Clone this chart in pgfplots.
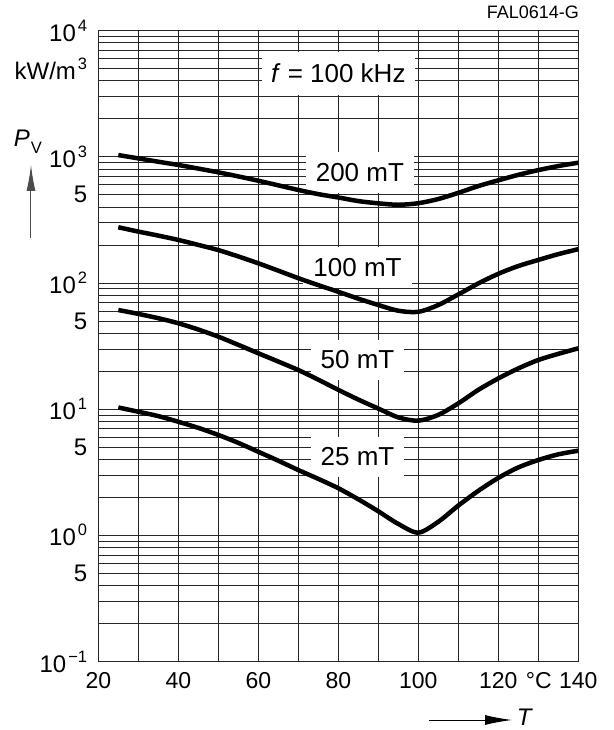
\documentclass[border=0pt]{standalone}
\usepackage{pgfplots}
\pgfplotsset{compat=1.18}
\usepackage{fontspec}
\setmainfont{Liberation Sans}
\usetikzlibrary{arrows.meta}
% superscript as on the data sheet: raised, a bit smaller
\newcommand\sx[1]{\hspace{2pt}\raisebox{10pt}{\fontsize{16.5}{16}\selectfont #1}}
\newcommand\tl{\fontsize{24}{27}\selectfont}
\newcommand\xl{\fontsize{23}{26}\selectfont}
\newcommand\cl{\fontsize{26}{30}\selectfont}
\tikzset{lbl/.style={fill=white, inner xsep=10pt, inner ysep=11pt, font=\cl}}

\begin{document}
\begin{tikzpicture}
\useasboundingbox (-98.3pt,-68.5pt) rectangle (514.7pt,661.5pt);
\begin{axis}[
    at={(0pt,0pt)}, anchor=south west,
    width=480pt, height=631pt, scale only axis,
    ymode=log,
    xmin=20, xmax=140, ymin=0.1, ymax=10000,
    xtick={20,40,...,140},
    minor xtick={30,50,...,130},
    xticklabels={20,40,60,80,100,120,140},
    ytick={0.1,0.5,1,5,10,50,100,500,1000,5000,10000},
    yticklabels={10\sx{−1},5,10\sx{0},5,10\sx{1},5,10\sx{2},5,10\sx{3},kW/m\sx{3},10\sx{4}},
    minor ytick={0.2,0.3,0.4,0.6,0.7,0.8,0.9,
                 2,3,4,6,7,8,9,
                 20,30,40,60,70,80,90,
                 200,300,400,600,700,800,900,
                 2000,3000,4000,6000,7000,8000,9000},
    grid=both,
    grid style={black!85, line width=0.6pt},
    major grid style={black!85, line width=0.6pt},
    axis line style={black!85, line width=0.6pt},
    major tick length=0pt, minor tick length=0pt,
    yticklabel style={font=\tl, anchor=east, inner sep=0pt, xshift=-11pt},
    xticklabel style={font=\xl, anchor=north, inner sep=0pt, yshift=-11pt},
    clip=false,
]

% labels in white boxes over the grid
\node[lbl, inner xsep=9pt, inner ysep=12pt] at (axis cs:80,4600) {\textit{f} = 100 kHz};
\node[lbl] at (axis cs:85.4,750) {200 mT};
\node[lbl] at (axis cs:84.8,132) {100 mT};
\node[lbl] at (axis cs:84.8,24.5) {50 mT};
\node[lbl] at (axis cs:84.8,4.17) {25 mT};
\node[anchor=north, inner sep=0pt, yshift=-11pt, font=\xl] at (axis cs:130.1,0.1) {°C};

% 200 mT
\addplot[black, line width=4.5pt, smooth] coordinates {
    (25,1030) (30,970) (35,912) (40,860) (45,805) (50,752) (55,698)
    (60,645) (65,593) (70,545) (75,505) (80,475) (85,445) (90,427)
    (95,416) (100,428) (105,462) (110,517) (115,585) (120,650)
    (125,718) (130,783) (135,843) (140,896)
};
% 100 mT
\addplot[black, line width=4.5pt, smooth] coordinates {
    (25,276) (30,255) (35,237) (40,219) (45,200) (50,182) (55,162)
    (60,143) (65,125) (70,109) (75,96) (80,85) (85,75) (90,66.8)
    (95,60.2) (100,59) (105,66.8) (110,81) (115,99) (120,118)
    (125,136) (130,152) (135,169) (140,185)
};
% 50 mT
\addplot[black, line width=4.5pt, smooth] coordinates {
    (25,61) (30,56.8) (35,52.5) (40,47.9) (45,42.7) (50,37.5) (55,32.3)
    (60,27.7) (65,23.8) (70,20.4) (75,17.1) (80,14.2) (85,11.9) (90,10.1)
    (95,8.6) (100,8.1) (105,9.0) (110,11.1) (115,14.2) (120,17.5)
    (125,21.0) (130,24.5) (135,27.4) (140,30.3)
};
% 25 mT
\addplot[black, line width=4.5pt, smooth] coordinates {
    (25,10.3) (30,9.53) (35,8.8) (40,7.94) (45,7.1) (50,6.24) (55,5.4)
    (60,4.59) (65,3.9) (70,3.29) (75,2.8) (80,2.36) (85,1.93) (90,1.55)
    (95,1.23) (100,1.05) (105,1.28) (110,1.72) (115,2.25) (120,2.85)
    (125,3.45) (130,3.95) (135,4.38) (140,4.68)
};
\end{axis}

% quantity labels with arrows
\node[font=\fontsize{24}{27}\selectfont] at (-70.3pt,520pt)
    {\textit{P}\hspace{1pt}\raisebox{-7pt}{\fontsize{16.5}{16}\selectfont V}};
\draw[black!70, line width=1pt, -{Latex[length=26pt,width=9pt]}]
    (-67.3pt,423.5pt) -- (-67.3pt,496.5pt);
\draw[black, line width=1pt, -{Latex[length=27pt,width=10pt]}]
    (330.7pt,-58.5pt) -- (413.7pt,-58.5pt);
\node[font=\fontsize{24}{27}\selectfont\itshape, anchor=west] at (415pt,-56pt) {T};
\node[font=\fontsize{18}{21}\selectfont, anchor=east, inner sep=0pt] at (480.7pt,649.5pt) {FAL0614-G};
\end{tikzpicture}
\end{document}
